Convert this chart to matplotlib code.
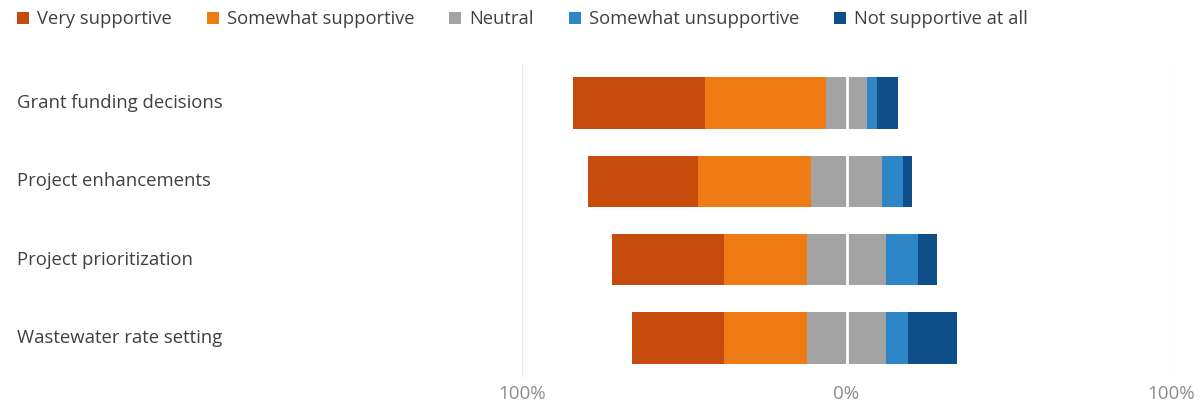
import matplotlib.pyplot as plt
from matplotlib.patches import Patch

plt.rcParams['font.family'] = ['Open Sans', 'DejaVu Sans']

# Survey responses, percent of respondents per decision area
areas = ['Grant funding decisions', 'Project enhancements',
         'Project prioritization', 'Wastewater rate setting']
responses = ['Very supportive', 'Somewhat supportive', 'Neutral',
             'Somewhat unsupportive', 'Not supportive at all']
very_supportive = [40.5, 34.0, 34.4, 28.3]
somewhat_supportive = [37.5, 34.7, 25.7, 25.7]
neutral = [12.5, 22.1, 24.3, 24.2]
somewhat_unsupportive = [3.1, 6.3, 9.9, 7.0]
not_supportive = [6.5, 2.9, 5.9, 15.1]
tick_values = [-100, 0, 100]
tick_labels = ['100%', '0%', '100%']

colors = ['#C64B0C', '#EE7B14', '#A3A3A3', '#2F86C6', '#0E4F8A']

fig = plt.figure(figsize=(12.04, 4.07), dpi=100)
ax = fig.add_axes([522 / 1204, 1 - 377 / 407, 649 / 1204, 313 / 407])

y = list(range(len(areas)))
height = 0.66

# Diverging layout: neutral straddles zero, support to the left
for i in y:
    half = neutral[i] / 2
    left_parts = [(very_supportive[i], colors[0]),
                  (somewhat_supportive[i], colors[1])]
    start = -half - very_supportive[i] - somewhat_supportive[i]
    for width, col in left_parts:
        ax.barh(i, width, left=start, height=height, color=col, zorder=2)
        start += width
    ax.barh(i, neutral[i], left=-half, height=height, color=colors[2], zorder=2)
    start = half
    for width, col in [(somewhat_unsupportive[i], colors[3]),
                       (not_supportive[i], colors[4])]:
        ax.barh(i, width, left=start, height=height, color=col, zorder=2)
        start += width

ax.set_xlim(-100, 100)
ax.set_ylim(len(areas) - 0.5, -0.5)

# Gridlines
for v in (-100, 100):
    ax.axvline(v, color='#E6E6E6', lw=1, zorder=1)
ax.axvline(0, color='white', lw=2, zorder=3)

ax.set_xticks(tick_values)
ax.set_xticklabels(tick_labels, color='#8C8C8C', fontsize=13.5)
ax.tick_params(axis='x', length=0, pad=6)
ax.set_yticks([])
for s in ax.spines.values():
    s.set_visible(False)

# Category labels at the far left
for i, name in enumerate(areas):
    ax.annotate(name, xy=(17 / 1204, i), xycoords=('figure fraction', 'data'),
                va='center', ha='left', fontsize=13.3, color='#404040')

handles = [Patch(facecolor=c, label=r) for c, r in zip(colors, responses)]
fig.legend(handles=handles, loc='upper left', bbox_to_anchor=(17 / 1204, 0.975),
           ncol=5, frameon=False, fontsize=13.2, handlelength=0.66,
           handleheight=0.66, handletextpad=0.44, columnspacing=1.9,
           borderpad=0, borderaxespad=0, labelcolor='#404040')

fig.savefig('out.png', dpi=100)
